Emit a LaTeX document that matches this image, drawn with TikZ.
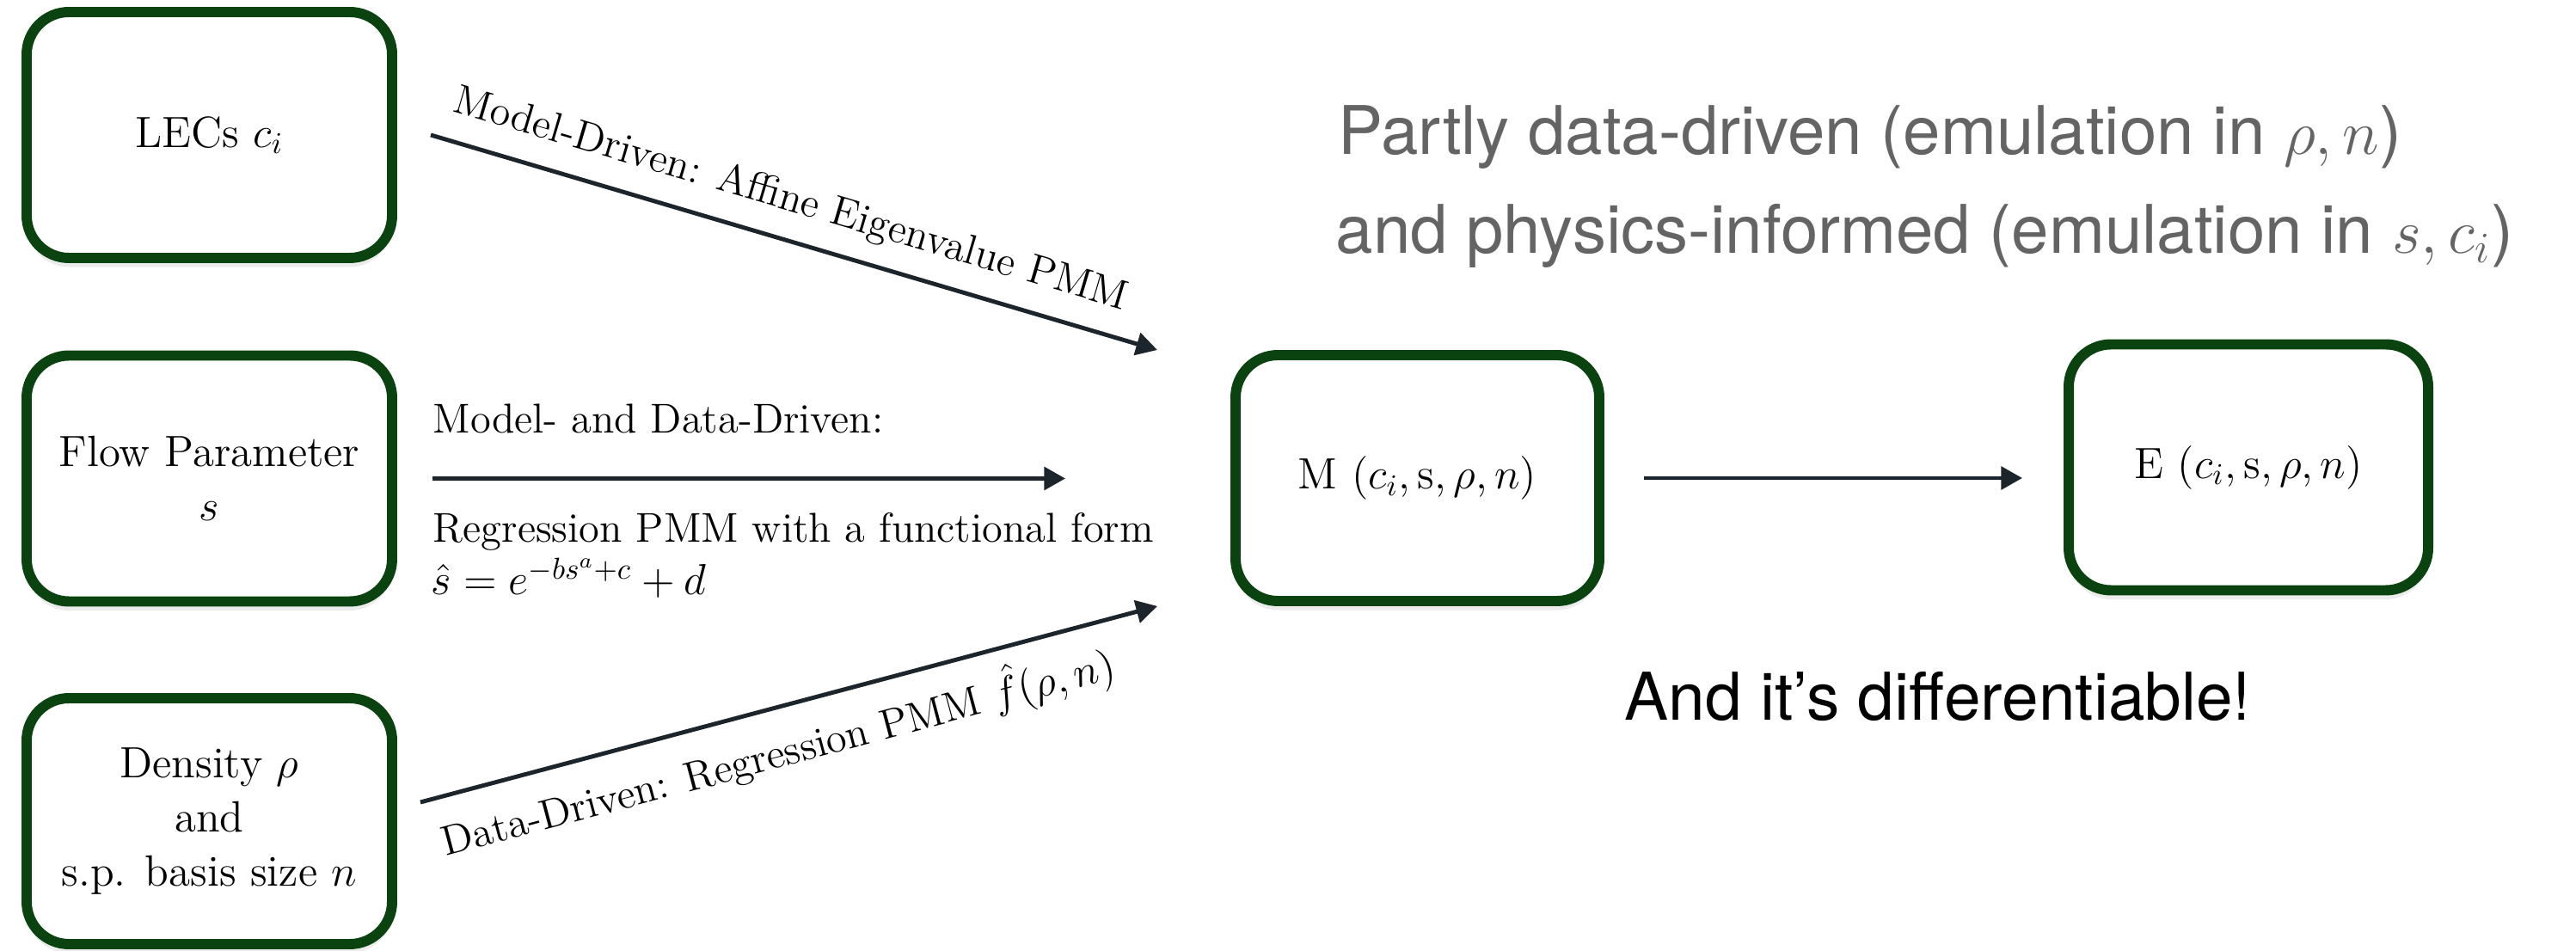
\documentclass[tikz,border=0pt]{standalone}
\usepackage{fontspec}
\setsansfont{TeX Gyre Heros}
\usepackage{tikz}
\usetikzlibrary{arrows.meta, shadows}
\definecolor{boxgreen}{HTML}{0A4310}
\definecolor{arrowcol}{HTML}{1C252C}
\definecolor{notegray}{HTML}{646464}

\begin{document}
\begin{tikzpicture}[
  every node/.style={font=\fontsize{14.5}{18}\selectfont, align=center},
  box/.style={draw=boxgreen, line width=3.4pt, rounded corners=14pt, fill=white,
    minimum width=4.25cm, minimum height=2.86cm, inner sep=0pt,
    drop shadow={shadow xshift=0pt, shadow yshift=-3pt, opacity=0.15}},
  conn/.style={draw=arrowcol, line width=1.4pt, -{Triangle[length=7pt, width=7.5pt]}},
  lbl/.style={inner sep=0pt, font=\fontsize{13.8}{17}\selectfont},
  note/.style={inner sep=0pt, font=\sffamily\fontsize{22.2}{27}\selectfont,
    text=notegray, align=left},
]
\useasboundingbox (0,0) rectangle (29.96,11.06);

% Input boxes
\node[box] (lec)  at (2.435, 9.49)  {LECs $c_i$};
\node[box] (flow) at (2.435, 5.495) {Flow Parameter\\ $s$};
\node[box] (dens) at (2.435, 1.51)  {Density $\rho$\\ and\\ s.p. basis size $n$};

% Emulator and output
\node[box, minimum width=4.23cm] (mdl) at (16.485, 5.50) {M $(c_i, \mathrm{s}, \rho, n)$};
\node[box, minimum width=4.18cm] (en)  at (26.15, 5.625) {E $(c_i, \mathrm{s}, \rho, n)$};

% Connectors into M
\draw[conn] ([xshift=0.39cm]lec.east) --
  node[lbl, sloped, above=6pt, pos=0.48] (lblaff) {Model-Driven: Affine Eigenvalue PMM}
  ([xshift=-0.85cm]mdl.north west);
\draw[conn, shorten <=0.41cm, shorten >=1.92cm] (flow.east) -- (flow.east -| mdl.west);
\draw[conn] ([xshift=0.27cm, yshift=0.22cm]dens.east) --
  node[lbl, sloped, below=5pt, pos=0.47] (lbldd) {Data-Driven: Regression PMM $\hat{f}(\rho, n)$}
  ([xshift=-0.85cm]mdl.south west);

% Labels of the middle connector
\node[lbl, anchor=base west] (lblmad) at (5.03, 6.02) {Model- and Data-Driven:};
\node[lbl, anchor=base west] (lblreg) at (5.03, 4.75) {Regression PMM with a functional form};
\node[lbl, anchor=base west] (lblfrm) at (5.01, 4.14) {$\hat{s} = e^{-bs^a+c} + d$};

% M to E
\draw[conn, shorten <=0.46cm, shorten >=0.48cm] (mdl.east) -- (mdl.east -| en.west);

% Notes
\node[note, anchor=base west] (notepart) at (15.56, 9.26) {Partly data-driven (emulation in $\rho, n$)};
\node[note, anchor=base west] (notephys) at (15.53, 8.11) {and physics-informed (emulation in $s, c_i$)};
\node[note, anchor=base west, text=black, font=\sffamily\fontsize{21.8}{26}\selectfont]
  (notediff) at (18.89, 2.68) {And it’s differentiable!};

\end{tikzpicture}
\end{document}
